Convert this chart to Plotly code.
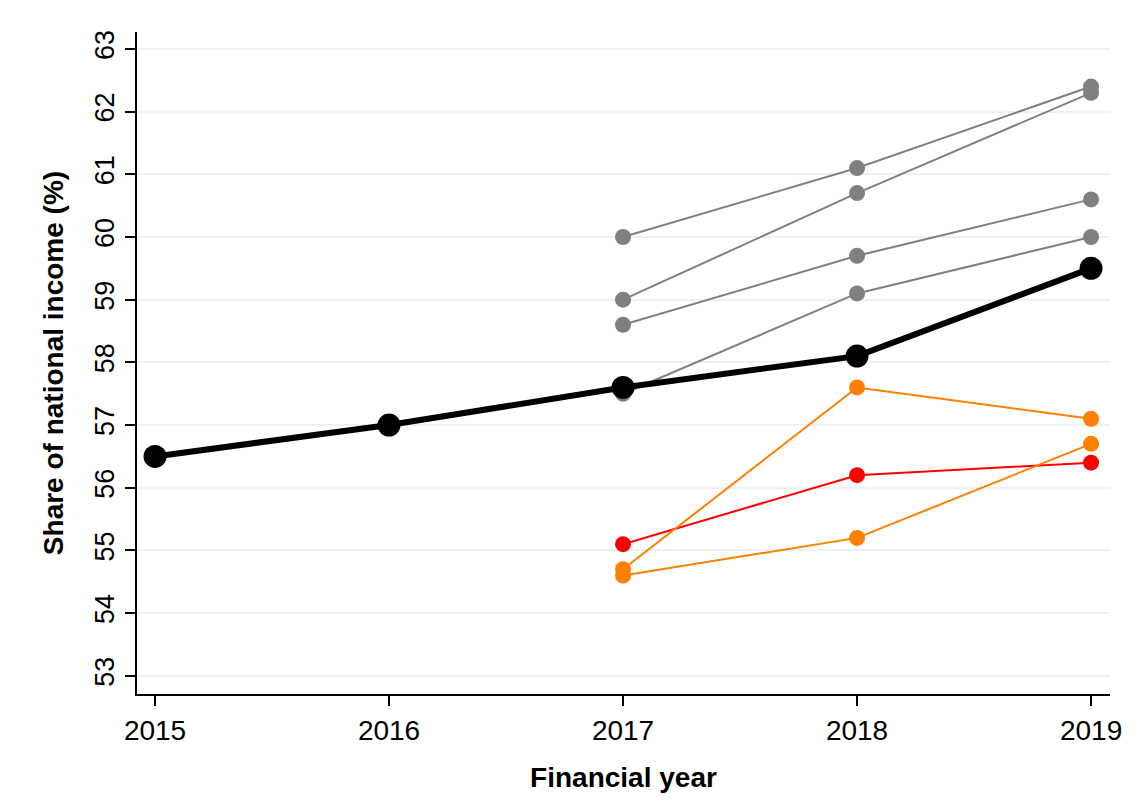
import plotly.graph_objects as go

years = [2015, 2016, 2017, 2018, 2019]
proj_years = [2017, 2018, 2019]

# outturn (black)
actual = [56.5, 57.0, 57.6, 58.1, 59.5]

# earlier forecasts (grey)
grey_a = [60.0, 61.1, 62.4]
grey_b = [59.0, 60.7, 62.3]
grey_c = [58.6, 59.7, 60.6]
grey_d = [57.5, 59.1, 60.0]

# later forecasts (orange / red)
orange_a = [54.7, 57.6, 57.1]
orange_b = [54.6, 55.2, 56.7]
red_a = [55.1, 56.2, 56.4]

y_ticks = list(range(53, 64))

FONT = "Liberation Sans, Arial, sans-serif"

fig = go.Figure()

for vals in [grey_a, grey_b, grey_c, grey_d]:
    fig.add_trace(go.Scatter(
        x=proj_years, y=vals, mode="lines+markers",
        line=dict(color="#808080", width=2),
        marker=dict(color="#808080", size=16),
        showlegend=False,
    ))

fig.add_trace(go.Scatter(
    x=proj_years, y=red_a, mode="lines+markers",
    line=dict(color="#FF0000", width=2),
    marker=dict(color="#FF0000", size=16),
    showlegend=False,
))

for vals in [orange_a, orange_b]:
    fig.add_trace(go.Scatter(
        x=proj_years, y=vals, mode="lines+markers",
        line=dict(color="#FF8000", width=2),
        marker=dict(color="#FF8000", size=16),
        showlegend=False,
    ))

fig.add_trace(go.Scatter(
    x=years, y=actual, mode="lines+markers",
    line=dict(color="#000000", width=6),
    marker=dict(color="#000000", size=23),
    showlegend=False,
))

# faint outer frame (only top and left edges visible)
fig.add_shape(type="rect", xref="paper", yref="paper",
              x0=-0.1367, x1=1.2, y0=-0.4, y1=1.045,
              line=dict(color="#EEEEEE", width=1.5))

fig.update_layout(
    width=1138,
    height=803,
    margin=dict(l=129, r=36, t=24, b=117),
    plot_bgcolor="white",
    paper_bgcolor="white",
    font=dict(family=FONT, size=27, color="black"),
)

fig.update_xaxes(
    range=[2014.923, 2019.081],
    tickvals=years,
    ticktext=[str(y) for y in years],
    showgrid=False,
    zeroline=False,
    showline=True, linecolor="black", linewidth=2,
    ticks="outside", ticklen=10, tickwidth=1.5, tickcolor="black",
    tickfont=dict(size=28),
    title=dict(text="<b>Financial year</b>", font=dict(size=28), standoff=23),
)

fig.update_yaxes(
    range=[52.71, 63.27],
    tickvals=y_ticks,
    tickangle=-90,
    showgrid=True, gridcolor="#EAF2F3", gridwidth=2,
    zeroline=False,
    showline=True, linecolor="black", linewidth=2,
    ticks="outside", ticklen=10, tickwidth=1.5, tickcolor="black",
    tickfont=dict(size=27),
    title=dict(text="<b>Share of national income (%)</b>", font=dict(size=28), standoff=18),
)

fig.write_html("out.html")
